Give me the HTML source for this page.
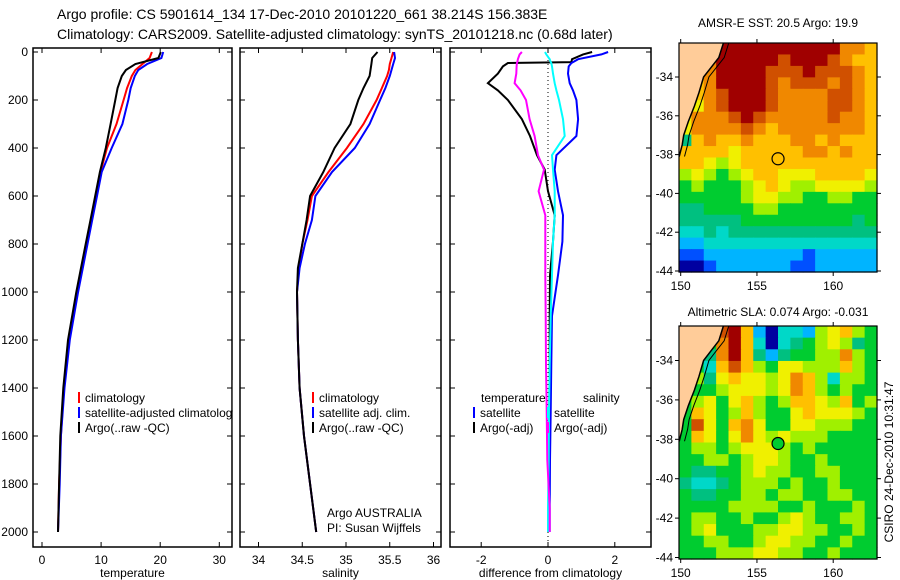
<!DOCTYPE html>
<html><head><meta charset="utf-8"><style>
html,body{margin:0;padding:0;background:#fff;}
svg{display:block;font-family:"Liberation Sans",sans-serif;}
</style></head><body>
<svg id="chart" width="900" height="580" viewBox="0 0 900 580" xmlns="http://www.w3.org/2000/svg">
<text x="57" y="19" font-size="14">Argo profile: CS 5901614_134 17-Dec-2010 20101220_661 38.214S 156.383E</text>
<text x="57" y="39" font-size="14">Climatology: CARS2009. Satellite-adjusted climatology: synTS_20101218.nc (0.68d later)</text>
</svg>
<script>
// ---- profile data ----
const depths = [0,25,50,75,100,150,200,300,400,500,600,700,800,900,1000,1200,1400,1600,1800,2000];
const tempArgo = [20.1,19.7,15.8,14.2,13.5,12.8,12.4,11.6,10.8,9.8,9.0,8.2,7.4,6.6,5.8,4.4,3.6,3.1,2.9,2.7];
const tempClim = [18.6,18.2,17.0,15.8,15.2,14.4,13.8,12.6,11.0,9.9,9.1,8.3,7.5,6.7,6.0,4.6,3.7,3.2,2.9,2.7];
const tempSat  = [20.5,20.2,17.8,16.3,15.7,15.0,14.6,13.6,11.8,10.1,9.3,8.5,7.7,6.9,6.1,4.7,3.8,3.2,3.0,2.7];
const salArgo = [35.36,35.30,35.29,35.28,35.27,35.20,35.14,35.05,34.87,34.74,34.59,34.55,34.50,34.45,34.44,34.45,34.47,34.52,34.59,34.66];
const salClim = [35.54,35.52,35.50,35.49,35.47,35.41,35.35,35.20,35.01,34.80,34.61,34.56,34.50,34.46,34.44,34.45,34.47,34.52,34.59,34.66];
const salSat  = [35.55,35.56,35.54,35.52,35.50,35.45,35.39,35.27,35.10,34.84,34.65,34.61,34.53,34.47,34.44,34.45,34.47,34.52,34.59,34.66];
const diffDepths = [0,10,30,42,46,60,90,130,160,200,280,350,430,490,580,680,790,930,1100,1300,1500,1700,1900,2000];
const dTempArgo = [1.32,1.05,0.72,0.70,-1.20,-1.35,-1.50,-1.80,-1.50,-1.20,-0.78,-0.54,-0.33,-0.10,0.00,0.20,0.15,0.06,0.05,0.05,0.04,0.03,0.02,0.02];
const dTempSat  = [1.80,1.60,0.90,0.75,0.70,0.62,0.60,0.65,0.75,0.85,0.90,0.85,0.25,0.20,0.30,0.45,0.43,0.30,0.12,0.10,0.08,0.06,0.05,0.05];
const dSalSat   = [-0.09,-0.05,0.05,0.08,0.10,0.12,0.15,0.20,0.25,0.33,0.45,0.50,0.12,0.15,0.20,0.20,0.15,0.12,0.08,0.05,0.03,0.02,0.0,0.0];
const dSalArgo  = [-0.78,-0.85,-0.90,-0.92,-0.93,-0.94,-0.95,-1.00,-0.82,-0.66,-0.55,-0.40,-0.30,-0.12,-0.28,-0.08,-0.08,-0.08,-0.07,-0.06,-0.04,-0.02,0.05,0.05];
const depthTicks = [0,200,400,600,800,1000,1200,1400,1600,1800,2000];
const tempTicks = [0,10,20,30];
const salTicks = [34,34.5,35,35.5,36];
const diffTicks = [-2,0,2];
// ---- map data (levels 0-b, L = land) ----
const sstGrid = [
"LL8bbbbbbbbbb998","LL9bbbbbabbba988","LL9bbbbaaabaaa98","L89bbbba9aaa9a98",
"L89abbba9999aa98","L79abbba9999aa98","7999aba99999a998","79999a9899999998",
"4898898889989888","8888788888998988","8876788888888888","6765678877788887",
"5655567876677776","5555567766556655","4455556655555555","4444455555555545",
"3343444444444444","2233333333333333","1122222222122222","0012222221122222"];
const slaGrid = [
"LL5ab82033267865","LL59b83034567645","L549b84245566965","L538a86577666865",
"L647877679863665","6556777679865655","5675786568876856","5875686557877765",
"5a75897557766655","5875797676665555","5665677765655555","5566567765565555",
"5445567665566555","4334566656556555","5445566566556655","5555666655655565",
"5665565567655665","5675556677665565","5566556776655655","5556667766556555"];
const sstTicksLat = [-34,-36,-38,-40,-42,-44];
const lonTicks = [150,155,160];
const coastLon = [152.8,152.5,152.0,151.5,151.2,150.9,150.5,150.2,150.1,149.9];
const coastLat = [-32.25,-33.0,-33.5,-34.0,-34.8,-35.5,-36.3,-37.0,-37.5,-38.1];
const argoLon = 156.383, argoLat = -38.214;

const NS="http://www.w3.org/2000/svg";
const svg=document.getElementById('chart');
function mk(tag,attrs,parent){const e=document.createElementNS(NS,tag);for(const k in attrs)e.setAttribute(k,attrs[k]);(parent||svg).appendChild(e);return e;}
function txt(x,y,s,size,anchor,parent){const t=mk('text',{x:x,y:y,'font-size':size,'text-anchor':anchor||'start'},parent);t.textContent=s;return t;}

const yTop=52, yScale=0.24, boxTop=48, boxBot=547;
const yD=d=>yTop+d*yScale;
function panel(name,x0,x1,xf,ticks,label,fmt,showY){
  const g=mk('g',{});
  
  
  const r=mk('rect',{x:x0,y:boxTop,width:x1-x0,height:boxBot-boxTop,fill:'none',stroke:'#000','stroke-width':1.5},g);
  
  
  ticks.forEach(v=>{const x=xf(v);
    mk('line',{x1:x,y1:boxBot,x2:x,y2:boxBot-5,stroke:'#000'},g);
    mk('line',{x1:x,y1:boxTop,x2:x,y2:boxTop+5,stroke:'#000'},g);
    const t=txt(x,boxBot+17,fmt(v),12,'middle',g);
    
    
  });
  depthTicks.forEach(d=>{const y=yD(d);
    mk('line',{x1:x0,y1:y,x2:x0+5,y2:y,stroke:'#000'},g);
    mk('line',{x1:x1,y1:y,x2:x1-5,y2:y,stroke:'#000'},g);
    if(showY){const t=txt(x0-5,y+4,String(d),12,'end',g);
      
      }
  });
  const l=txt((x0+x1)/2,boxBot+30,label,12,'middle',g);
  
  
  return g;
}
function series(name,xs,ds,xf,color,w){
  const pts=xs.map((v,i)=>xf(v).toFixed(1)+','+yD(ds[i]).toFixed(1)).join(' ');
  const p=mk('polyline',{points:pts,fill:'none',stroke:color,'stroke-width':w||2});
  
  
}
function legend(x,y,color,label,name){
  const l=mk('line',{x1:x,y1:y-10,x2:x,y2:y+1,stroke:color,'stroke-width':2});
  
  
  const t=txt(x+6,y,label,12);
  
  
}
// Temperature
const xT=v=>42+v*5.91;
panel('temperature-panel',33,232,xT,tempTicks,'temperature',v=>String(v),true);
series('temp-climatology-line',tempClim,depths,xT,'#ff0000');
series('temp-satellite-line',tempSat,depths,xT,'#0000ff');
series('temp-argo-line',tempArgo,depths,xT,'#000000');
legend(79,402,'#ff0000','climatology','temp-legend-climatology');
legend(79,417,'#0000ff','satellite-adjusted climatology','temp-legend-satellite');
legend(79,432,'#000000','Argo(..raw -QC)','temp-legend-argo');
mk('rect',{x:232.8,y:380,width:6.5,height:60,fill:'#fff'});
// Salinity
const xS=v=>258.5+(v-34)*87.5;
panel('salinity-panel',240,441,xS,salTicks,'salinity',v=>String(v),false);
series('sal-climatology-line',salClim,depths,xS,'#ff0000');
series('sal-satellite-line',salSat,depths,xS,'#0000ff');
series('sal-argo-line',salArgo,depths,xS,'#000000');
legend(313,402,'#ff0000','climatology','sal-legend-climatology');
legend(313,417,'#0000ff','satellite adj. clim.','sal-legend-satellite');
legend(313,432,'#000000','Argo(..raw -QC)','sal-legend-argo');
let t1=txt(327,517,'Argo AUSTRALIA',12);


let t2=txt(327,532,'PI: Susan Wijffels',12);


// Difference
const xDf=v=>548+v*33.4;
panel('difference-panel',450,651,xDf,diffTicks,'difference from climatology',v=>String(v),false);
const zl=mk('line',{x1:xDf(0),y1:boxTop,x2:xDf(0),y2:boxBot,stroke:'#000','stroke-dasharray':'1,3'});


series('diff-temp-argo-line',dTempArgo,diffDepths,xDf,'#000000');
series('diff-temp-satellite-line',dTempSat,diffDepths,xDf,'#0000ff');
series('diff-sal-satellite-line',dSalSat,diffDepths,xDf,'#00ffff');
series('diff-sal-argo-line',dSalArgo,diffDepths,xDf,'#ff00ff');
let lt=txt(481,402,'temperature',12);


let ls=txt(583,402,'salinity',12);


legend(474,417,'#0000ff','satellite','diff-legend-temp-satellite');
legend(474,432,'#000000','Argo(-adj)','diff-legend-temp-argo');
legend(548,417,'#00ffff','satellite','diff-legend-sal-satellite');
legend(548,432,'#ff00ff','Argo(-adj)','diff-legend-sal-argo');

// ---- maps ----
const cmap={'0':'#0000a0','1':'#0050ff','2':'#00b4ff','3':'#00d8c8','4':'#00c080','5':'#00cc30','6':'#a0f000','7':'#f0f000','8':'#ffc000','9':'#f08800','a':'#d05000','b':'#a00000','L':'#ffcc99'};
function drawMap(name,grid,bx0,bx1,by0,by1,latRef,yRef,pxDeg,circleFill){
  const g=mk('g',{});
  
  
  const lonX=lon=>680.7+(lon-150)*15.25;
  const latY=lat=>yRef+(latRef-lat)*pxDeg;
  const rows=grid.length, cw=(bx1-bx0)/16, ch=(by1-by0)/rows;
  grid.forEach((row,r)=>{for(let c=0;c<16;c++){const k=row[c]||'5';
    const cell=mk('rect',{x:(bx0+c*cw).toFixed(2),y:(by0+r*ch).toFixed(2),width:(cw+0.6).toFixed(2),height:(ch+0.6).toFixed(2),fill:cmap[k]},g);
    
    
  }});
  const cpts=coastLon.map((lo,i)=>lonX(lo).toFixed(1)+','+latY(coastLat[i]).toFixed(1));
  const land=mk('polygon',{points:cpts.join(' ')+' '+bx0+','+latY(-38.1).toFixed(1)+' '+bx0+','+by0,fill:'#ffcc99'},g);
  
  
  const coast=mk('polyline',{points:cpts.join(' '),fill:'none',stroke:'#000','stroke-width':1.5},g);
  
  
  const shelf=mk('polyline',{points:coastLon.map((lo,i)=>lonX(lo+0.35).toFixed(1)+','+latY(coastLat[i]).toFixed(1)).join(' '),fill:'none',stroke:'#000','stroke-width':1},g);
  
  
  const ci=mk('circle',{cx:lonX(argoLon),cy:latY(argoLat),r:6,fill:circleFill,stroke:'#000','stroke-width':1.2},g);
  
  
  const fr=mk('rect',{x:bx0,y:by0,width:bx1-bx0,height:by1-by0,fill:'none',stroke:'#000','stroke-width':1.2},g);
  
  
  sstTicksLat.forEach(lat=>{const y=latY(lat);
    mk('line',{x1:bx0,y1:y,x2:bx0-4,y2:y,stroke:'#000'},g);
    mk('line',{x1:bx1,y1:y,x2:bx1+4,y2:y,stroke:'#000'},g);
    const t=txt(bx0-6,y+4,String(lat),12,'end',g);
    
    });
  lonTicks.forEach(lon=>{const x=lonX(lon);
    mk('line',{x1:x,y1:by1,x2:x,y2:by1+4,stroke:'#000'},g);
    mk('line',{x1:x,y1:by0,x2:x,y2:by0-4,stroke:'#000'},g);
    const t=txt(x,by1+18,String(lon),12,'middle',g);
    
    });
}
drawMap('sst-map',sstGrid,679,877,43,272,-34,77,19.4,'none');
drawMap('sla-map',slaGrid,679,877,326,559,-34,360.5,19.7,'#00cc30');
let mt1=txt(778,27,'AMSR-E SST: 20.5 Argo: 19.9',12,'middle');


let mt2=txt(778,316,'Altimetric SLA: 0.074 Argo: -0.031',12,'middle');


let st=txt(0,0,'CSIRO 24-Dec-2010 10:31:47',12,'middle');
st.setAttribute('transform','translate(893,462) rotate(-90)');


</script>
</body></html>
